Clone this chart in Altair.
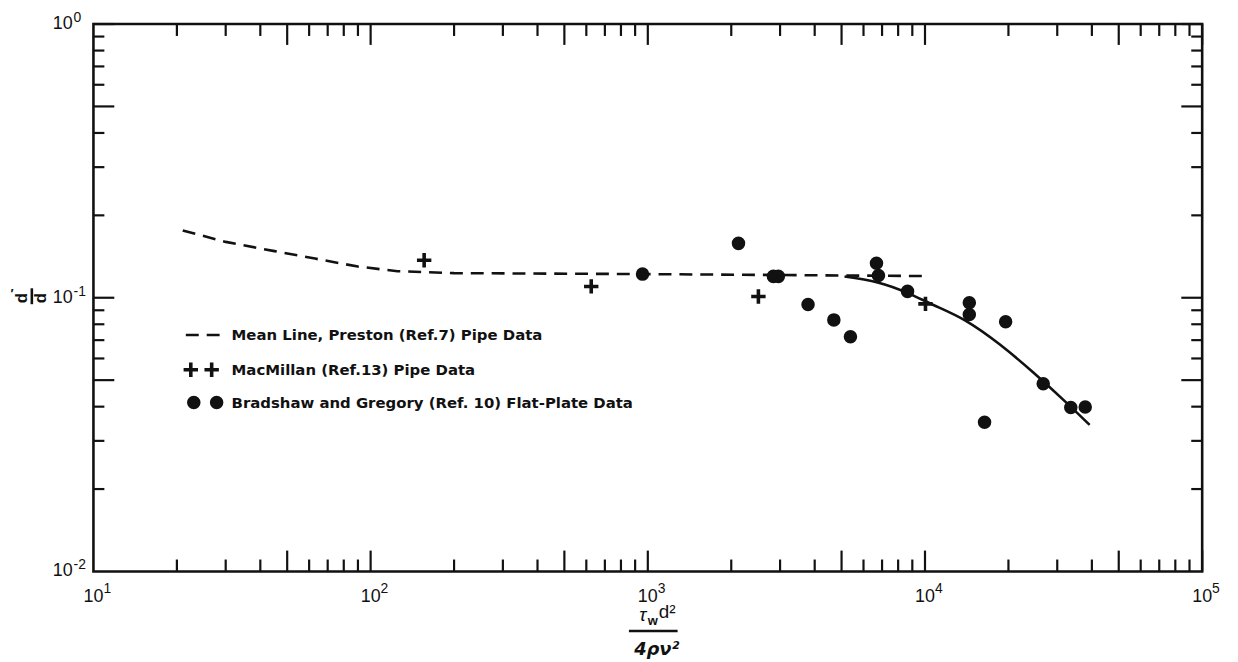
import altair as alt
import pandas as pd

# ---------------- data ----------------
mean_x = [21, 30, 45, 63, 90, 125, 200, 1000, 10300]
mean_y = [0.176, 0.160, 0.148, 0.139, 0.130, 0.125, 0.123, 0.122, 0.120]

fit_x = [5125, 6745, 8643, 10772, 13990, 18680, 24590, 32360, 39260]
fit_y = [0.1196, 0.1138, 0.1042, 0.0939, 0.0825, 0.0673, 0.0533, 0.0414, 0.0343]

macmillan_x = [156, 625, 2506, 10040]
macmillan_y = [0.137, 0.110, 0.101, 0.095]

bradshaw_x = [957, 2124, 2838, 2958, 3785, 4690, 5383, 6683, 6793, 8650,
              14450, 14450, 19540, 16400, 26700, 33570, 37850]
bradshaw_y = [0.122, 0.158, 0.1197, 0.1197, 0.0945, 0.083, 0.072, 0.1336, 0.1206, 0.1055,
              0.0958, 0.0869, 0.0817, 0.0351, 0.0485, 0.0397, 0.0399]

x_tick_values = [10, 100, 1000, 10000, 100000]
x_tick_exponents = ["1", "2", "3", "4", "5"]
y_tick_values = [1, 0.1, 0.01]
y_tick_exponents = ["0", "-1", "-2"]

minor_mult = [2, 3, 4, 6, 7, 8, 9]
major_mult = [5, 10]
x_decades = [10, 100, 1000, 10000]
y_decades = [0.01, 0.1]

legend_labels = ["Mean Line, Preston (Ref.7) Pipe Data",
                 "MacMillan (Ref.13) Pipe Data",
                 "Bradshaw and Gregory (Ref. 10) Flat-Plate Data"]

# ---------------- layout ----------------
W, H = 1116, 551
FONT = "Liberation Sans"
LFONT = "DejaVu Sans"
INK = "#111111"

xs = alt.Scale(type="log", domain=[10, 100000], nice=False)
ys = alt.Scale(type="log", domain=[0.01, 1], nice=False)

mean_df = pd.DataFrame({"x": mean_x, "y": mean_y})
fit_df = pd.DataFrame({"x": fit_x, "y": fit_y})
mac_df = pd.DataFrame({"x": macmillan_x, "y": macmillan_y})
bra_df = pd.DataFrame({"x": bradshaw_x, "y": bradshaw_y})

mean_line = alt.Chart(mean_df).mark_line(strokeDash=[13, 8], strokeWidth=2.6, color=INK).encode(
    x=alt.X("x:Q", scale=xs, axis=None),
    y=alt.Y("y:Q", scale=ys, axis=None),
)

fit_line = alt.Chart(fit_df).mark_line(strokeWidth=2.6, color=INK, interpolate="natural").encode(
    x=alt.X("x:Q", scale=xs), y=alt.Y("y:Q", scale=ys))

CROSS = "M-1,0H1M0,-1V1"
MS = dict(shape=CROSS, size=210, filled=False, strokeWidth=3.6, color=INK, opacity=1)
mac_pts = alt.Chart(mac_df).mark_point(**MS).encode(
    x=alt.X("x:Q", scale=xs), y=alt.Y("y:Q", scale=ys))

CS = dict(size=185, color=INK, opacity=1)
bra_pts = alt.Chart(bra_df).mark_circle(**CS).encode(
    x=alt.X("x:Q", scale=xs), y=alt.Y("y:Q", scale=ys))

# ---------------- inward ticks ----------------
x_minor = [d * m for d in x_decades for m in minor_mult]
x_major = [d * m for d in x_decades for m in major_mult]
y_minor = [d * m for d in y_decades for m in minor_mult]
y_major = [d * m for d in y_decades for m in major_mult]

tick_layers = []
for vals, ln in ((x_minor, 12), (x_major, 21)):
    df = pd.DataFrame({"x": vals})
    tick_layers.append(alt.Chart(df).mark_rule(strokeWidth=2.2, color=INK).encode(
        x=alt.X("x:Q", scale=xs), y=alt.value(H), y2=alt.value(H - ln)))
    tick_layers.append(alt.Chart(df).mark_rule(strokeWidth=2.2, color=INK).encode(
        x=alt.X("x:Q", scale=xs), y=alt.value(0), y2=alt.value(ln)))
for vals, ln in ((y_minor, 11), (y_major, 21)):
    df = pd.DataFrame({"y": vals})
    tick_layers.append(alt.Chart(df).mark_rule(strokeWidth=2.2, color=INK).encode(
        y=alt.Y("y:Q", scale=ys), x=alt.value(0), x2=alt.value(ln)))
    tick_layers.append(alt.Chart(df).mark_rule(strokeWidth=2.2, color=INK).encode(
        y=alt.Y("y:Q", scale=ys), x=alt.value(W), x2=alt.value(W - ln)))

# ---------------- tick labels (10 + superscript exponent) ----------------
xl_df = pd.DataFrame({"x": x_tick_values, "e": x_tick_exponents})
yl_df = pd.DataFrame({"y": y_tick_values, "e": y_tick_exponents})
label_layers = [
    alt.Chart(xl_df).mark_text(align="center", baseline="middle", font=FONT, fontSize=18,
                               color=INK).encode(
        x=alt.X("x:Q", scale=xs), y=alt.value(H + 26), text=alt.value("10")),
    alt.Chart(xl_df).mark_text(align="left", baseline="middle", font=FONT, fontSize=14,
                               color=INK, dx=10, dy=-8).encode(
        x=alt.X("x:Q", scale=xs), y=alt.value(H + 26), text="e:N"),
    alt.Chart(yl_df).mark_text(align="right", baseline="middle", font=FONT, fontSize=18,
                               color=INK).encode(
        y=alt.Y("y:Q", scale=ys), x=alt.value(-21), text=alt.value("10")),
    alt.Chart(yl_df).mark_text(align="left", baseline="middle", font=FONT, fontSize=14,
                               color=INK, dx=1, dy=-6).encode(
        y=alt.Y("y:Q", scale=ys), x=alt.value(-21), text="e:N"),
]

# ---------------- manual legend ----------------
one = pd.DataFrame({"a": [0]})
LX, LY = 93, 313
legend = [
    alt.Chart(one).mark_rule(strokeDash=[13, 8], strokeWidth=2.6, color=INK).encode(
        x=alt.value(LX), x2=alt.value(LX + 36), y=alt.value(LY)),
    alt.Chart(one).mark_point(**MS).encode(x=alt.value(LX + 5), y=alt.value(LY + 35)),
    alt.Chart(one).mark_point(**MS).encode(x=alt.value(LX + 26), y=alt.value(LY + 35)),
    alt.Chart(one).mark_circle(**CS).encode(x=alt.value(LX + 8), y=alt.value(LY + 68)),
    alt.Chart(one).mark_circle(**CS).encode(x=alt.value(LX + 31), y=alt.value(LY + 68)),
]
for i, txt in enumerate(legend_labels):
    legend.append(alt.Chart(one).mark_text(align="left", baseline="middle", font=LFONT,
                                           fontWeight="bold", fontSize=15, color=INK).encode(
        x=alt.value(LX + 46), y=alt.value(LY + [0, 35, 68][i]), text=alt.value(txt)))

# ---------------- axis titles ----------------
titles = [
    # y title: fraction p/p, rotated a quarter turn
    alt.Chart(one).mark_text(angle=90, align="center", baseline="middle", font=FONT,
                             fontSize=17, fontWeight="bold", color=INK).encode(
        x=alt.value(-71), y=alt.value(276), text=alt.value("p")),
    alt.Chart(one).mark_rule(strokeWidth=2.6, color=INK).encode(
        x=alt.value(-62), y=alt.value(266), y2=alt.value(282)),
    alt.Chart(one).mark_text(angle=90, align="center", baseline="middle", font=FONT,
                             fontSize=17, fontWeight="bold", color=INK).encode(
        x=alt.value(-52), y=alt.value(276), text=alt.value("p")),
    alt.Chart(one).mark_text(align="center", baseline="middle", font=FONT,
                             fontSize=13, fontWeight="bold", color=INK).encode(
        x=alt.value(-82), y=alt.value(272), text=alt.value("′")),
    # x title: tau_w d^2 over 4 rho nu^2
    alt.Chart(one).mark_text(align="center", baseline="middle", font=FONT, fontSize=19,
                             fontStyle="italic", color=INK).encode(
        x=alt.value(553), y=alt.value(595), text=alt.value("τ")),
    alt.Chart(one).mark_text(align="center", baseline="middle", font=FONT, fontSize=13,
                             fontWeight="bold", color=INK).encode(
        x=alt.value(563), y=alt.value(601), text=alt.value("w")),
    alt.Chart(one).mark_text(align="left", baseline="middle", font=FONT, fontSize=19,
                             color=INK).encode(
        x=alt.value(569), y=alt.value(592), text=alt.value("d²")),
    alt.Chart(one).mark_rule(strokeWidth=2.5, color=INK).encode(
        x=alt.value(539), x2=alt.value(588), y=alt.value(611)),
    alt.Chart(one).mark_text(align="center", baseline="middle", font=LFONT, fontSize=18,
                             fontWeight="bold", fontStyle="italic", color=INK).encode(
        x=alt.value(567), y=alt.value(630), text=alt.value("4ρν²")),
]

chart = alt.layer(mean_line, fit_line, mac_pts, bra_pts, *tick_layers, *label_layers,
                  *legend, *titles).properties(
    width=W, height=H,
    autosize=alt.AutoSizeParams(type="none"),
    padding={"left": 86, "top": 14, "right": 28, "bottom": 89},
    background="white",
).configure_view(stroke=INK, strokeWidth=2.6)

chart.save("out.html", embed_options={"renderer": "svg", "actions": False})
